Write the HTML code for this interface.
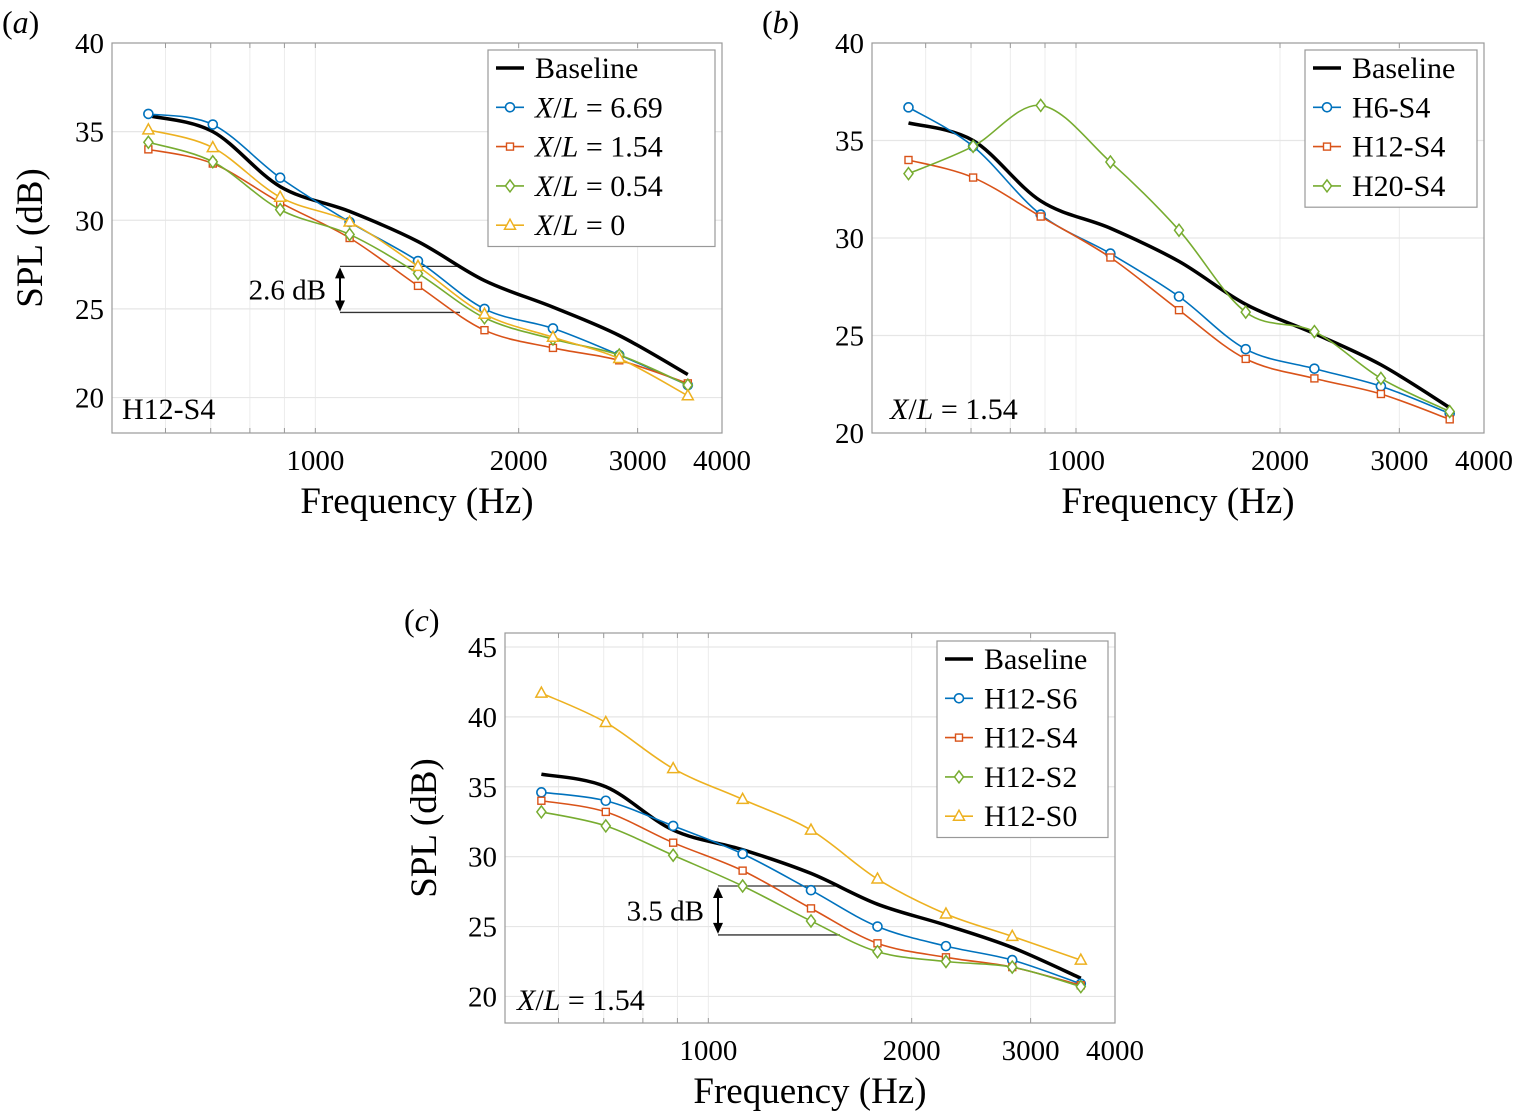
<!DOCTYPE html>
<html><head><meta charset="utf-8">
<style>
html,body{margin:0;padding:0;background:#fff;}
svg{display:block;}
svg text{font-family:"Liberation Serif","Times New Roman",serif;}
</style></head>
<body>
<svg id="fig" width="1519" height="1116" viewBox="0 0 1519 1116" xmlns="http://www.w3.org/2000/svg"></svg>
<script>
const freqs = [566, 705, 887, 1124, 1419, 1780, 2248, 2818, 3560];
const baseline = [35.9, 35.0, 31.9, 30.5, 28.8, 26.6, 25.1, 23.5, 21.3];
const aXL669 = [36.0, 35.4, 32.4, 29.9, 27.7, 25.0, 23.9, 22.4, 20.7];
const aXL154 = [34.0, 33.2, 31.0, 29.0, 26.3, 23.8, 22.8, 22.1, 20.8];
const aXL054 = [34.4, 33.3, 30.6, 29.2, 27.0, 24.5, 23.3, 22.4, 20.7];
const aXL0 = [35.1, 34.1, 31.3, 29.9, 27.4, 24.7, 23.4, 22.2, 20.1];
const bH6 = [36.7, 34.7, 31.2, 29.2, 27.0, 24.3, 23.3, 22.4, 21.0];
const bH12 = [34.0, 33.1, 31.1, 29.0, 26.3, 23.8, 22.8, 22.0, 20.7];
const bH20 = [33.3, 34.7, 36.8, 33.9, 30.4, 26.2, 25.2, 22.8, 21.1];
const cS6 = [34.6, 34.0, 32.2, 30.2, 27.6, 25.0, 23.6, 22.6, 20.9];
const cS4 = [34.0, 33.2, 31.0, 29.0, 26.3, 23.8, 22.8, 22.1, 20.8];
const cS2 = [33.2, 32.2, 30.1, 27.9, 25.4, 23.2, 22.5, 22.1, 20.7];
const cS0 = [41.7, 39.6, 36.3, 34.1, 31.9, 28.4, 25.9, 24.3, 22.6];
const xTickLabels = [1000, 2000, 3000, 4000];
const aYTicks = [20, 25, 30, 35, 40];
const cYTicks = [20, 25, 30, 35, 40, 45];

const NS = "http://www.w3.org/2000/svg";
const svg = document.getElementById('fig');
const C = {blue:'#0072BD', orange:'#D95319', green:'#77AC30', yellow:'#EDB120'};
function el(tag, attrs, parent){const e=document.createElementNS(NS,tag);for(const k in attrs)e.setAttribute(k,attrs[k]);(parent||svg).appendChild(e);return e;}

function spline(pts){
  let d='M'+pts[0][0]+','+pts[0][1];
  for(let i=0;i<pts.length-1;i++){
    const p0=pts[Math.max(0,i-1)],p1=pts[i],p2=pts[i+1],p3=pts[Math.min(pts.length-1,i+2)];
    const t=6;
    d+=' C'+(p1[0]+(p2[0]-p0[0])/t)+','+(p1[1]+(p2[1]-p0[1])/t)+' '+(p2[0]-(p3[0]-p1[0])/t)+','+(p2[1]-(p3[1]-p1[1])/t)+' '+p2[0]+','+p2[1];
  }
  return d;
}
function marker(g,type,x,y,color){
  let m;
  if(type==='o') m=el('circle',{cx:x,cy:y,r:4.5,fill:'#fff',stroke:color,'stroke-width':1.6},g);
  else if(type==='s') m=el('rect',{x:x-3.5,y:y-3.5,width:7,height:7,fill:'#fff',stroke:color,'stroke-width':1.4},g);
  else if(type==='d') m=el('polygon',{points:`${x},${y-6} ${x+4.5},${y} ${x},${y+6} ${x-4.5},${y}`,fill:'#fff',stroke:color,'stroke-width':1.5},g);
  else m=el('polygon',{points:`${x},${y-6} ${x+5.5},${y+4} ${x-5.5},${y+4}`,fill:'#fff',stroke:color,'stroke-width':1.5},g);
  
  
}

function panel(o){
  const g=el('g',{});
  
  
  const X=f=>o.x0+(Math.log10(f)-Math.log10(500))/(Math.log10(4000)-Math.log10(500))*(o.x1-o.x0);
  const Y=v=>o.y1-(v-o.ymin)/(o.ymax-o.ymin)*(o.y1-o.y0);
  const minor=[600,700,800,900,1000,2000,3000];
  minor.forEach(f=>{el('line',{x1:X(f),x2:X(f),y1:o.y0,y2:o.y1,stroke:'#ececec','stroke-width':1},g);});
  o.yticks.forEach(v=>{if(v>o.ymin&&v<o.ymax)el('line',{x1:o.x0,x2:o.x1,y1:Y(v),y2:Y(v),stroke:'#e6e6e6','stroke-width':1.2},g);});
  const box=el('rect',{x:o.x0,y:o.y0,width:o.x1-o.x0,height:o.y1-o.y0,fill:'none',stroke:'#999','stroke-width':1.2},g);
  
  
  [600,700,800,900,1000,2000,3000].forEach(f=>{el('line',{x1:X(f),x2:X(f),y1:o.y1,y2:o.y1-5,stroke:'#999'},g);el('line',{x1:X(f),x2:X(f),y1:o.y0,y2:o.y0+5,stroke:'#999'},g);});
  xTickLabels.forEach(f=>{
    const t=el('text',{x:X(f),y:o.y1+37,'font-size':29,'text-anchor':'middle'},g);t.textContent=f;
    
    
  });
  o.yticks.forEach(v=>{
    const t=el('text',{x:o.x0-8,y:Y(v)+10,'font-size':29,'text-anchor':'end'},g);t.textContent=v;
    
    
  });
  const xl=el('text',{x:(o.x0+o.x1)/2,y:o.y1+80,'font-size':37,'text-anchor':'middle'},g);xl.textContent='Frequency (Hz)';
  
  
  if(o.ylabel){
    const yl=el('text',{x:0,y:0,'font-size':37,'text-anchor':'middle',transform:`translate(${o.ylabelX},${(o.y0+o.y1)/2}) rotate(-90)`},g);yl.textContent='SPL (dB)';
    
    
  }
  const pl=el('text',{x:o.plx,y:o.ply,'font-size':32},g);pl.innerHTML='(<tspan font-style="italic">'+o.id+'</tspan>)';
  
  
  if(o.ann){
    const a=o.ann,ya=Y(a.top),yb=Y(a.top-a.dv);
    const ag=el('g',{},g);
    
    
    el('line',{x1:a.x,x2:a.x2,y1:ya,y2:ya,stroke:'#333','stroke-width':1.3},ag);
    el('line',{x1:a.x,x2:a.x2,y1:yb,y2:yb,stroke:'#333','stroke-width':1.3},ag);
    el('line',{x1:a.x,x2:a.x,y1:ya+8,y2:yb-8,stroke:'#000','stroke-width':2},ag);
    el('polygon',{points:`${a.x},${ya+1} ${a.x-5},${ya+12} ${a.x+5},${ya+12}`,fill:'#000'},ag);
    el('polygon',{points:`${a.x},${yb-1} ${a.x-5},${yb-12} ${a.x+5},${yb-12}`,fill:'#000'},ag);
    const t=el('text',{x:a.x-14,y:(ya+yb)/2+10,'font-size':29,'text-anchor':'end'},ag);t.textContent=a.dv+' dB';
  }
  o.series.forEach(s=>{
    const sg=el('g',{},g);
    
    
    const pts=s.data.map((v,i)=>[X(freqs[i]),Y(v)]);
    el('path',{d:spline(pts),fill:'none',stroke:s.color,'stroke-width':s.m?1.6:3.5},sg);
    if(s.m) pts.forEach(p=>marker(sg,s.m,p[0],p[1],s.color));
  });
  const cl=el('text',{x:o.clx,y:o.cly,'font-size':30},g);cl.innerHTML=o.corner;
  
  
  const L=o.leg;
  const lg=el('g',{},g);
  
  
  el('rect',{x:L.x,y:L.y,width:L.w,height:o.series.length*39.3,fill:'#fff',stroke:'#999','stroke-width':1.2},lg);
  o.series.forEach((s,i)=>{
    const cy=L.y+18+i*39.3;
    const eg=el('g',{},lg);
    
    
    el('line',{x1:L.x+8,x2:L.x+36,y1:cy,y2:cy,stroke:s.color,'stroke-width':s.m?1.6:3.5},eg);
    if(s.m) marker(eg,s.m,L.x+22,cy,s.color);
    const t=el('text',{x:L.x+47,y:cy+10,'font-size':30},eg);t.innerHTML=s.label;
  });
}
const xl=v=>'<tspan font-style="italic">X</tspan>/<tspan font-style="italic">L</tspan> = '+v;
panel({id:'a',x0:112,x1:722,y0:43,y1:433,ymin:18,ymax:40,yticks:aYTicks,ylabel:true,ylabelX:42,plx:2,ply:33,
  clx:122,cly:419,corner:'H12-S4',leg:{x:488,y:50,w:227},
  ann:{x:340,x2:460,top:27.4,dv:2.6},
  series:[{name:'baseline',label:'Baseline',data:baseline,color:'#000'},
    {name:'xl-6.69',label:xl('6.69'),data:aXL669,color:C.blue,m:'o'},
    {name:'xl-1.54',label:xl('1.54'),data:aXL154,color:C.orange,m:'s'},
    {name:'xl-0.54',label:xl('0.54'),data:aXL054,color:C.green,m:'d'},
    {name:'xl-0',label:xl('0'),data:aXL0,color:C.yellow,m:'t'}]});
panel({id:'b',x0:872,x1:1484,y0:43,y1:433,ymin:20,ymax:40,yticks:aYTicks,ylabel:false,plx:762,ply:33,
  clx:890,cly:419,corner:xl('1.54'),leg:{x:1305,y:50,w:172},
  series:[{name:'baseline',label:'Baseline',data:baseline,color:'#000'},
    {name:'h6-s4',label:'H6-S4',data:bH6,color:C.blue,m:'o'},
    {name:'h12-s4',label:'H12-S4',data:bH12,color:C.orange,m:'s'},
    {name:'h20-s4',label:'H20-S4',data:bH20,color:C.green,m:'d'}]});
panel({id:'c',x0:505,x1:1115,y0:633,y1:1023,ymin:18.1,ymax:46,yticks:cYTicks,ylabel:true,ylabelX:436,plx:404,ply:631,
  clx:517,cly:1010,corner:xl('1.54'),leg:{x:937,y:641,w:171},
  ann:{x:718,x2:840,top:27.9,dv:3.5},
  series:[{name:'baseline',label:'Baseline',data:baseline,color:'#000'},
    {name:'h12-s6',label:'H12-S6',data:cS6,color:C.blue,m:'o'},
    {name:'h12-s4',label:'H12-S4',data:cS4,color:C.orange,m:'s'},
    {name:'h12-s2',label:'H12-S2',data:cS2,color:C.green,m:'d'},
    {name:'h12-s0',label:'H12-S0',data:cS0,color:C.yellow,m:'t'}]});
</script>
</body></html>
